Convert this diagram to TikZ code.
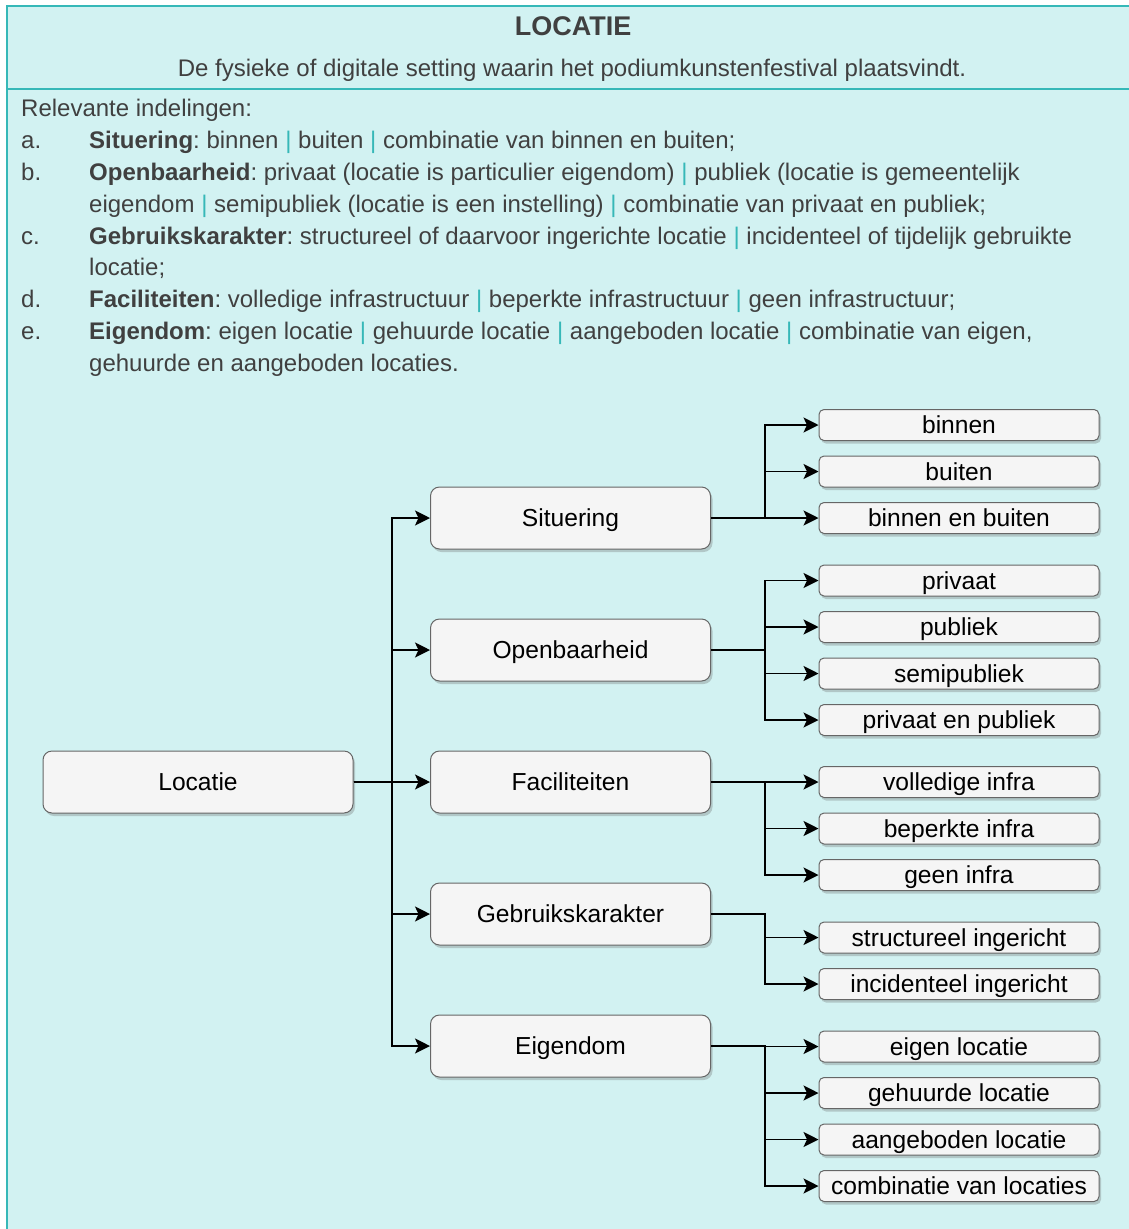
\documentclass[tikz,border=0pt]{standalone}
\usepackage{fontspec}
\setmainfont{Liberation Sans}
\usetikzlibrary{arrows.meta}
\usetikzlibrary{calc}
\usetikzlibrary{shadows}
\usetikzlibrary{positioning}

\definecolor{panelbg}{HTML}{D2F2F2}
\definecolor{panelline}{HTML}{36B8B8}
\definecolor{textgray}{HTML}{404040}
\definecolor{boxfill}{HTML}{F5F5F5}
\definecolor{boxline}{HTML}{666666}

\newcommand{\tealbar}{{\color{panelline}|}}
\frenchspacing

\tikzset{
  body/.style={font=\fontsize{24}{32}\selectfont,text=textgray,inner sep=0pt},
  heading/.style={font=\bfseries\fontsize{27}{30}\selectfont,text=textgray,inner sep=0pt},
  catbox/.style={rectangle,rounded corners=9pt,draw=boxline,line width=1pt,fill=boxfill,
    minimum width=280pt,minimum height=62pt,inner sep=2pt,
    font=\fontsize{24.6}{28}\selectfont,text height=19pt,text depth=2pt,
    drop shadow={shadow xshift=2pt,shadow yshift=-3pt,opacity=0.3,fill=black!60}},
  leafbox/.style={catbox,rounded corners=5pt,minimum height=31pt},
  elbow/.style={to path={-| ($(\tikztostart)!0.5!(\tikztotarget)$) |- (\tikztotarget)}},
  link/.style={line width=1.6pt,-{Stealth[length=15pt,width=15pt,inset=3.5pt]},elbow}
}

\begin{document}
\begin{tikzpicture}[x=1pt,y=-1pt]
\useasboundingbox (0,0) rectangle (1129,1229);
\fill[white] (0,0) rectangle (1129,1229);
\fill[panelbg] (6,5) rectangle (1129,1229);
\draw[panelline,line width=2pt] (7,1229) -- (7,6) -- (1129,6);
\draw[panelline,line width=1.5pt] (7,89) -- (1129,89);

% header
\node[heading,anchor=base] (title) at (573,35) {LOCATIE};
\node[body,anchor=base] (subtitle) at (572,76) {De fysieke of digitale setting waarin het podiumkunstenfestival plaatsvindt.};

% list
\node[body,anchor=base west] (intro) at (21,116) {Relevante indelingen:};
\node[body,anchor=base west] (labA) at (21,148) {a.};
\node[body,anchor=base west] (itemA) at (89,148) {\textbf{Situering}: binnen \tealbar{} buiten \tealbar{} combinatie van binnen en buiten;};
\node[body,anchor=base west] (labB) at (21,180) {b.};
\node[body,anchor=base west] (itemB1) at (89,180) {\textbf{Openbaarheid}: privaat (locatie is particulier eigendom) \tealbar{} publiek (locatie is gemeentelijk};
\node[body,anchor=base west] (itemB2) at (89,212) {eigendom \tealbar{} semipubliek (locatie is een instelling) \tealbar{} combinatie van privaat en publiek;};
\node[body,anchor=base west] (labC) at (21,244) {c.};
\node[body,anchor=base west] (itemC1) at (89,244) {\textbf{Gebruikskarakter}: structureel of daarvoor ingerichte locatie \tealbar{} incidenteel of tijdelijk gebruikte};
\node[body,anchor=base west] (itemC2) at (89,275) {locatie;};
\node[body,anchor=base west] (labD) at (21,307) {d.};
\node[body,anchor=base west] (itemD) at (89,307) {\textbf{Faciliteiten}: volledige infrastructuur \tealbar{} beperkte infrastructuur \tealbar{} geen infrastructuur;};
\node[body,anchor=base west] (labE) at (21,339) {e.};
\node[body,anchor=base west] (itemE1) at (89,339) {\textbf{Eigendom}: eigen locatie \tealbar{} gehuurde locatie \tealbar{} aangeboden locatie \tealbar{} combinatie van eigen,};
\node[body,anchor=base west] (itemE2) at (89,371) {gehuurde en aangeboden locaties.};

% tree
\node[catbox,minimum width=310pt] (locatie) at (198,782) {Locatie};

\node[catbox] (situering) at (570.5,518) {Situering};
\node[catbox] (openbaarheid) at (570.5,650) {Openbaarheid};
\node[catbox] (faciliteiten) at (570.5,782) {Faciliteiten};
\node[catbox] (gebruik) at (570.5,914) {Gebruikskarakter};
\node[catbox] (eigendom) at (570.5,1046) {Eigendom};

\node[leafbox] (lBinnen) at (959,425) {binnen};
\node[leafbox] (lBuiten) at (959,471.5) {buiten};
\node[leafbox] (lBinnenBuiten) at (959,518) {binnen en buiten};
\node[leafbox] (lPrivaat) at (959,580.5) {privaat};
\node[leafbox] (lPubliek) at (959,627) {publiek};
\node[leafbox] (lSemi) at (959,673.5) {semipubliek};
\node[leafbox] (lPrivPub) at (959,720) {privaat en publiek};
\node[leafbox] (lVolledig) at (959,782) {volledige infra};
\node[leafbox] (lBeperkt) at (959,828.5) {beperkte infra};
\node[leafbox] (lGeen) at (959,875) {geen infra};
\node[leafbox] (lStructureel) at (959,937.5) {structureel ingericht};
\node[leafbox] (lIncidenteel) at (959,984) {incidenteel ingericht};
\node[leafbox] (lEigen) at (959,1046.5) {eigen locatie};
\node[leafbox] (lGehuurd) at (959,1093) {gehuurde locatie};
\node[leafbox] (lAangeboden) at (959,1139.5) {aangeboden locatie};
\node[leafbox] (lCombinatie) at (959,1186) {combinatie van locaties};

\draw[link] (locatie.east) to (situering.west);
\draw[link] (locatie.east) to (openbaarheid.west);
\draw[link] (locatie.east) to (faciliteiten.west);
\draw[link] (locatie.east) to (gebruik.west);
\draw[link] (locatie.east) to (eigendom.west);

\draw[link] (situering.east) to (lBinnen.west);
\draw[link] (situering.east) to (lBuiten.west);
\draw[link] (situering.east) to (lBinnenBuiten.west);

\draw[link] (openbaarheid.east) to (lPrivaat.west);
\draw[link] (openbaarheid.east) to (lPubliek.west);
\draw[link] (openbaarheid.east) to (lSemi.west);
\draw[link] (openbaarheid.east) to (lPrivPub.west);

\draw[link] (faciliteiten.east) to (lVolledig.west);
\draw[link] (faciliteiten.east) to (lBeperkt.west);
\draw[link] (faciliteiten.east) to (lGeen.west);

\draw[link] (gebruik.east) to (lStructureel.west);
\draw[link] (gebruik.east) to (lIncidenteel.west);

\draw[link] (eigendom.east) to (lEigen.west);
\draw[link] (eigendom.east) to (lGehuurd.west);
\draw[link] (eigendom.east) to (lAangeboden.west);
\draw[link] (eigendom.east) to (lCombinatie.west);

\end{tikzpicture}
\end{document}
